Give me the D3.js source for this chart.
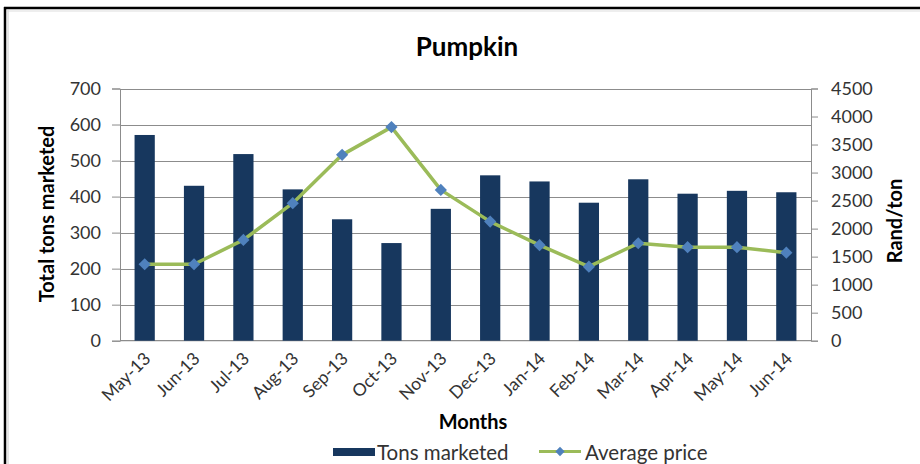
<!DOCTYPE html>
<html>
<head>
<meta charset="utf-8">
<script src="https://cdn.jsdelivr.net/npm/d3@7"></script>
<style>
  html, body { margin: 0; padding: 0; background: #fff; }
  svg { display: block; font-family: Lato, "Open Sans", sans-serif; }
</style>
</head>
<body>
<svg id="chart" width="920" height="464"></svg>
<script>
// Monthly pumpkin market figures
const months = ["May-13", "Jun-13", "Jul-13", "Aug-13", "Sep-13", "Oct-13", "Nov-13",
                "Dec-13", "Jan-14", "Feb-14", "Mar-14", "Apr-14", "May-14", "Jun-14"];
const tonsMarketed = [571, 430, 518, 420, 337, 271, 366, 459, 442, 383, 448, 408, 416, 412];
const averagePrice = [1364, 1364, 1798, 2454, 3316, 3811, 2691, 2125, 1704, 1321, 1739, 1668, 1668, 1571];
const tonsTicks = [0, 100, 200, 300, 400, 500, 600, 700];
const priceTicks = [0, 500, 1000, 1500, 2000, 2500, 3000, 3500, 4000, 4500];

const svg = d3.select("#chart");
const plot = { left: 120, right: 811, top: 88.5, bottom: 340.7 };

const x = d3.scaleBand().domain(months).range([plot.left, plot.right]).paddingInner(0.59).paddingOuter(0.295);
const yL = d3.scaleLinear().domain([0, 700]).range([plot.bottom, plot.top]);
const yR = d3.scaleLinear().domain([0, 4500]).range([plot.bottom, plot.top]);
const cx = d => x(d) + x.bandwidth() / 2;

// frame
svg.append("line").attr("x1", 5).attr("x2", 5).attr("y1", 7).attr("y2", 464)
  .attr("stroke", "#000").attr("stroke-width", 2.5);
svg.append("line").attr("x1", 4).attr("x2", 920).attr("y1", 8).attr("y2", 8)
  .attr("stroke", "#000").attr("stroke-width", 2.5);
svg.append("line").attr("x1", 8).attr("x2", 8).attr("y1", 10).attr("y2", 464)
  .attr("stroke", "#ccc").attr("stroke-width", 1);
svg.append("line").attr("x1", 7).attr("x2", 920).attr("y1", 11).attr("y2", 11)
  .attr("stroke", "#ddd").attr("stroke-width", 1);

// title
svg.append("text").attr("x", 467).attr("y", 56).attr("text-anchor", "middle")
  .attr("font-size", 26).attr("font-weight", "bold").attr("fill", "#000").text("Pumpkin");

// gridlines
svg.append("g").selectAll("line").data(tonsTicks.slice(1)).join("line")
  .attr("x1", plot.left).attr("x2", plot.right)
  .attr("y1", d => Math.round(yL(d)) + 0.5).attr("y2", d => Math.round(yL(d)) + 0.5)
  .attr("stroke", "#8c8c8c").attr("stroke-width", 1.2);

// left axis
const axL = svg.append("g").attr("transform", `translate(${plot.left},0)`)
  .call(d3.axisLeft(yL).tickValues(tonsTicks).tickSize(8).tickPadding(11));
axL.select(".domain").attr("stroke", "#8c8c8c");
axL.selectAll(".tick line").attr("stroke", "#8c8c8c");
axL.selectAll(".tick text").attr("font-size", 18).attr("fill", "#333").attr("font-family", "Lato, sans-serif");

// right axis
const axR = svg.append("g").attr("transform", `translate(${plot.right},0)`)
  .call(d3.axisRight(yR).tickValues(priceTicks).tickFormat(d3.format("d")).tickSize(7).tickPadding(13));
axR.select(".domain").attr("stroke", "#8c8c8c");
axR.selectAll(".tick line").attr("stroke", "#8c8c8c");
axR.selectAll(".tick text").attr("font-size", 18).attr("fill", "#333").attr("font-family", "Lato, sans-serif");

// bottom axis line
svg.append("line").attr("x1", plot.left).attr("x2", plot.right)
  .attr("y1", plot.bottom).attr("y2", plot.bottom).attr("stroke", "#8c8c8c").attr("stroke-width", 1.2);

// bars
svg.append("g").selectAll("rect").data(tonsMarketed).join("rect")
  .attr("x", (d, i) => x(months[i])).attr("width", x.bandwidth())
  .attr("y", d => yL(d)).attr("height", d => plot.bottom - yL(d))
  .attr("fill", "#17375e");

// price line
const line = d3.line().x((d, i) => cx(months[i])).y(d => yR(d));
svg.append("path").datum(averagePrice).attr("d", line)
  .attr("fill", "none").attr("stroke", "#9bbb59").attr("stroke-width", 3.5).attr("stroke-linejoin", "round");

const diamond = d3.symbol().type(d3.symbolDiamond2).size(95);
svg.append("g").selectAll("path").data(averagePrice).join("path")
  .attr("d", diamond)
  .attr("transform", (d, i) => `translate(${cx(months[i])},${yR(d)})`)
  .attr("fill", "#4f81bd");

// month labels
svg.append("g").selectAll("text").data(months).join("text")
  .attr("transform", d => `translate(${cx(d) + 7},${plot.bottom + 19}) rotate(-45)`)
  .attr("text-anchor", "end").attr("font-size", 17.5).attr("fill", "#333").text(d => d);

// axis titles
svg.append("text").attr("transform", "translate(54,214) rotate(-90)").attr("text-anchor", "middle")
  .attr("font-size", 20).attr("font-weight", "bold").text("Total tons marketed");
svg.append("text").attr("transform", "translate(902,221) rotate(-90)").attr("text-anchor", "middle")
  .attr("font-size", 20).attr("font-weight", "bold").text("Rand/ton");
svg.append("text").attr("x", 473).attr("y", 429).attr("text-anchor", "middle")
  .attr("font-size", 20).attr("font-weight", "bold").text("Months");

// legend
const lg = svg.append("g");
lg.append("rect").attr("x", 333).attr("y", 448).attr("width", 42).attr("height", 8).attr("fill", "#17375e");
lg.append("text").attr("x", 377).attr("y", 460).attr("font-size", 20.5).attr("fill", "#333").text("Tons marketed");
lg.append("line").attr("x1", 539).attr("x2", 581).attr("y1", 451.5).attr("y2", 451.5)
  .attr("stroke", "#9bbb59").attr("stroke-width", 3);
lg.append("path").attr("d", d3.symbol().type(d3.symbolDiamond2).size(55))
  .attr("transform", "translate(560,451.5)").attr("fill", "#4f81bd");
lg.append("text").attr("x", 585).attr("y", 460).attr("font-size", 20.5).attr("fill", "#333").text("Average price");
</script>
</body>
</html>
